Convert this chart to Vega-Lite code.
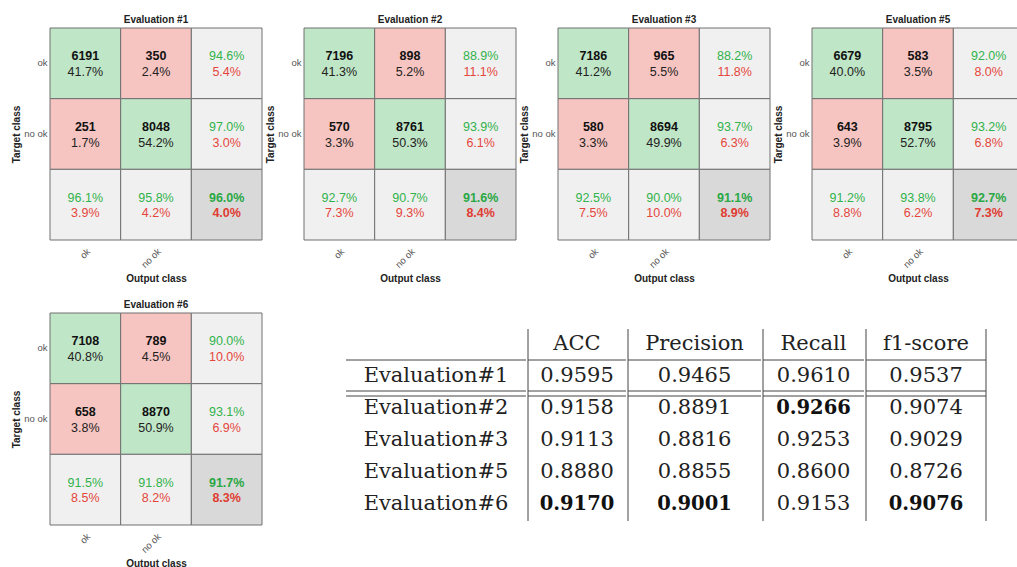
{
  "$schema": "https://vega.github.io/schema/vega-lite/v6.json",
  "padding": {"left": 11, "top": 14, "right": 0, "bottom": 0},
  "config": {"view": {"stroke": null}, "font": "Liberation Sans", "axis": {"grid": false}},
  "datasets": {
    "cm": [
      {"ev": 1, "r": "ok", "c": "ok", "k": "tp", "a": 6191, "b": 0.417},
      {"ev": 1, "r": "ok", "c": "no ok", "k": "err", "a": 350, "b": 0.024},
      {"ev": 1, "r": "ok", "c": "all", "k": "sum", "a": 0.946, "b": 0.054},
      {"ev": 1, "r": "no ok", "c": "ok", "k": "err", "a": 251, "b": 0.017},
      {"ev": 1, "r": "no ok", "c": "no ok", "k": "tp", "a": 8048, "b": 0.542},
      {"ev": 1, "r": "no ok", "c": "all", "k": "sum", "a": 0.970, "b": 0.030},
      {"ev": 1, "r": "all", "c": "ok", "k": "sum", "a": 0.961, "b": 0.039},
      {"ev": 1, "r": "all", "c": "no ok", "k": "sum", "a": 0.958, "b": 0.042},
      {"ev": 1, "r": "all", "c": "all", "k": "tot", "a": 0.960, "b": 0.040},
      {"ev": 2, "r": "ok", "c": "ok", "k": "tp", "a": 7196, "b": 0.413},
      {"ev": 2, "r": "ok", "c": "no ok", "k": "err", "a": 898, "b": 0.052},
      {"ev": 2, "r": "ok", "c": "all", "k": "sum", "a": 0.889, "b": 0.111},
      {"ev": 2, "r": "no ok", "c": "ok", "k": "err", "a": 570, "b": 0.033},
      {"ev": 2, "r": "no ok", "c": "no ok", "k": "tp", "a": 8761, "b": 0.503},
      {"ev": 2, "r": "no ok", "c": "all", "k": "sum", "a": 0.939, "b": 0.061},
      {"ev": 2, "r": "all", "c": "ok", "k": "sum", "a": 0.927, "b": 0.073},
      {"ev": 2, "r": "all", "c": "no ok", "k": "sum", "a": 0.907, "b": 0.093},
      {"ev": 2, "r": "all", "c": "all", "k": "tot", "a": 0.916, "b": 0.084},
      {"ev": 3, "r": "ok", "c": "ok", "k": "tp", "a": 7186, "b": 0.412},
      {"ev": 3, "r": "ok", "c": "no ok", "k": "err", "a": 965, "b": 0.055},
      {"ev": 3, "r": "ok", "c": "all", "k": "sum", "a": 0.882, "b": 0.118},
      {"ev": 3, "r": "no ok", "c": "ok", "k": "err", "a": 580, "b": 0.033},
      {"ev": 3, "r": "no ok", "c": "no ok", "k": "tp", "a": 8694, "b": 0.499},
      {"ev": 3, "r": "no ok", "c": "all", "k": "sum", "a": 0.937, "b": 0.063},
      {"ev": 3, "r": "all", "c": "ok", "k": "sum", "a": 0.925, "b": 0.075},
      {"ev": 3, "r": "all", "c": "no ok", "k": "sum", "a": 0.900, "b": 0.100},
      {"ev": 3, "r": "all", "c": "all", "k": "tot", "a": 0.911, "b": 0.089},
      {"ev": 5, "r": "ok", "c": "ok", "k": "tp", "a": 6679, "b": 0.400},
      {"ev": 5, "r": "ok", "c": "no ok", "k": "err", "a": 583, "b": 0.035},
      {"ev": 5, "r": "ok", "c": "all", "k": "sum", "a": 0.920, "b": 0.080},
      {"ev": 5, "r": "no ok", "c": "ok", "k": "err", "a": 643, "b": 0.039},
      {"ev": 5, "r": "no ok", "c": "no ok", "k": "tp", "a": 8795, "b": 0.527},
      {"ev": 5, "r": "no ok", "c": "all", "k": "sum", "a": 0.932, "b": 0.068},
      {"ev": 5, "r": "all", "c": "ok", "k": "sum", "a": 0.912, "b": 0.088},
      {"ev": 5, "r": "all", "c": "no ok", "k": "sum", "a": 0.938, "b": 0.062},
      {"ev": 5, "r": "all", "c": "all", "k": "tot", "a": 0.927, "b": 0.073},
      {"ev": 6, "r": "ok", "c": "ok", "k": "tp", "a": 7108, "b": 0.408},
      {"ev": 6, "r": "ok", "c": "no ok", "k": "err", "a": 789, "b": 0.045},
      {"ev": 6, "r": "ok", "c": "all", "k": "sum", "a": 0.900, "b": 0.100},
      {"ev": 6, "r": "no ok", "c": "ok", "k": "err", "a": 658, "b": 0.038},
      {"ev": 6, "r": "no ok", "c": "no ok", "k": "tp", "a": 8870, "b": 0.509},
      {"ev": 6, "r": "no ok", "c": "all", "k": "sum", "a": 0.931, "b": 0.069},
      {"ev": 6, "r": "all", "c": "ok", "k": "sum", "a": 0.915, "b": 0.085},
      {"ev": 6, "r": "all", "c": "no ok", "k": "sum", "a": 0.918, "b": 0.082},
      {"ev": 6, "r": "all", "c": "all", "k": "tot", "a": 0.917, "b": 0.083}
    ],
    "tbl": [
      {"ev": "Evaluation#1", "grp": "base", "m": "ACC", "v": 0.9595},
      {"ev": "Evaluation#1", "grp": "base", "m": "Precision", "v": 0.9465},
      {"ev": "Evaluation#1", "grp": "base", "m": "Recall", "v": 0.9610},
      {"ev": "Evaluation#1", "grp": "base", "m": "f1-score", "v": 0.9537},
      {"ev": "Evaluation#2", "grp": "cmp", "m": "ACC", "v": 0.9158},
      {"ev": "Evaluation#2", "grp": "cmp", "m": "Precision", "v": 0.8891},
      {"ev": "Evaluation#2", "grp": "cmp", "m": "Recall", "v": 0.9266},
      {"ev": "Evaluation#2", "grp": "cmp", "m": "f1-score", "v": 0.9074},
      {"ev": "Evaluation#3", "grp": "cmp", "m": "ACC", "v": 0.9113},
      {"ev": "Evaluation#3", "grp": "cmp", "m": "Precision", "v": 0.8816},
      {"ev": "Evaluation#3", "grp": "cmp", "m": "Recall", "v": 0.9253},
      {"ev": "Evaluation#3", "grp": "cmp", "m": "f1-score", "v": 0.9029},
      {"ev": "Evaluation#5", "grp": "cmp", "m": "ACC", "v": 0.8880},
      {"ev": "Evaluation#5", "grp": "cmp", "m": "Precision", "v": 0.8855},
      {"ev": "Evaluation#5", "grp": "cmp", "m": "Recall", "v": 0.8600},
      {"ev": "Evaluation#5", "grp": "cmp", "m": "f1-score", "v": 0.8726},
      {"ev": "Evaluation#6", "grp": "cmp", "m": "ACC", "v": 0.9170},
      {"ev": "Evaluation#6", "grp": "cmp", "m": "Precision", "v": 0.9001},
      {"ev": "Evaluation#6", "grp": "cmp", "m": "Recall", "v": 0.9153},
      {"ev": "Evaluation#6", "grp": "cmp", "m": "f1-score", "v": 0.9076}
    ]
  },
  "spacing": 15,
  "vconcat": [
    {
      "spacing": 2,
      "hconcat": [
        {
          "width": 212, "height": 212,
          "title": {"text": "Evaluation #1", "fontSize": 10, "fontWeight": "bold", "color": "#222", "offset": 3},
          "data": {"name": "cm"},
          "transform": [{"filter": "datum.ev == 1"}],
          "encoding": {
            "x": {"field": "c", "type": "nominal", "scale": {"type": "band", "domain": ["ok", "no ok", "all"], "paddingInner": 0, "paddingOuter": 0}, "axis": {"title": "Output class", "labelAngle": -45, "ticks": false, "domain": false, "labelPadding": 6, "labelFontSize": 9.5, "labelColor": "#555", "titleFontSize": 10, "titleFontWeight": "bold", "titleColor": "#222", "titlePadding": 4, "labelExpr": "datum.value == 'all' ? '' : datum.value"}},
            "y": {"field": "r", "type": "nominal", "scale": {"type": "band", "domain": ["ok", "no ok", "all"], "paddingInner": 0, "paddingOuter": 0}, "axis": {"title": "Target class", "ticks": false, "domain": false, "labelPadding": 3, "labelFontSize": 9.5, "labelColor": "#555", "titleFontSize": 10, "titleFontWeight": "bold", "titleColor": "#222", "titlePadding": 2, "labelExpr": "datum.value == 'all' ? '' : datum.value"}}
          },
          "layer": [
            {"mark": {"type": "rect", "stroke": "#707070", "strokeWidth": 1}, "encoding": {"fill": {"field": "k", "type": "nominal", "scale": {"domain": ["tp", "err", "sum", "tot"], "range": ["#bfe6c6", "#f7c5c1", "#f0f0f0", "#d9d9d9"]}, "legend": null}}},
            {"transform": [{"filter": "datum.k == 'tp' || datum.k == 'err'"}], "mark": {"type": "text", "fontSize": 12.5, "fontWeight": "bold", "color": "#111", "yOffset": -7}, "encoding": {"text": {"field": "a", "format": "d"}}},
            {"transform": [{"filter": "datum.k == 'tp' || datum.k == 'err'"}], "mark": {"type": "text", "fontSize": 12.5, "color": "#222", "yOffset": 8.5}, "encoding": {"text": {"field": "b", "format": ".1%"}}},
            {"transform": [{"filter": "datum.k == 'sum'"}], "mark": {"type": "text", "fontSize": 12.5, "color": "#30b34b", "yOffset": -7}, "encoding": {"text": {"field": "a", "format": ".1%"}}},
            {"transform": [{"filter": "datum.k == 'sum'"}], "mark": {"type": "text", "fontSize": 12.5, "color": "#e5463c", "yOffset": 8.5}, "encoding": {"text": {"field": "b", "format": ".1%"}}},
            {"transform": [{"filter": "datum.k == 'tot'"}], "mark": {"type": "text", "fontSize": 12.5, "fontWeight": "bold", "color": "#2aa845", "yOffset": -7}, "encoding": {"text": {"field": "a", "format": ".1%"}}},
            {"transform": [{"filter": "datum.k == 'tot'"}], "mark": {"type": "text", "fontSize": 12.5, "fontWeight": "bold", "color": "#e03c32", "yOffset": 8.5}, "encoding": {"text": {"field": "b", "format": ".1%"}}}
          ]
        },
        {
          "width": 212, "height": 212,
          "title": {"text": "Evaluation #2", "fontSize": 10, "fontWeight": "bold", "color": "#222", "offset": 3},
          "data": {"name": "cm"},
          "transform": [{"filter": "datum.ev == 2"}],
          "encoding": {
            "x": {"field": "c", "type": "nominal", "scale": {"type": "band", "domain": ["ok", "no ok", "all"], "paddingInner": 0, "paddingOuter": 0}, "axis": {"title": "Output class", "labelAngle": -45, "ticks": false, "domain": false, "labelPadding": 6, "labelFontSize": 9.5, "labelColor": "#555", "titleFontSize": 10, "titleFontWeight": "bold", "titleColor": "#222", "titlePadding": 4, "labelExpr": "datum.value == 'all' ? '' : datum.value"}},
            "y": {"field": "r", "type": "nominal", "scale": {"type": "band", "domain": ["ok", "no ok", "all"], "paddingInner": 0, "paddingOuter": 0}, "axis": {"title": "Target class", "ticks": false, "domain": false, "labelPadding": 3, "labelFontSize": 9.5, "labelColor": "#555", "titleFontSize": 10, "titleFontWeight": "bold", "titleColor": "#222", "titlePadding": 2, "labelExpr": "datum.value == 'all' ? '' : datum.value"}}
          },
          "layer": [
            {"mark": {"type": "rect", "stroke": "#707070", "strokeWidth": 1}, "encoding": {"fill": {"field": "k", "type": "nominal", "scale": {"domain": ["tp", "err", "sum", "tot"], "range": ["#bfe6c6", "#f7c5c1", "#f0f0f0", "#d9d9d9"]}, "legend": null}}},
            {"transform": [{"filter": "datum.k == 'tp' || datum.k == 'err'"}], "mark": {"type": "text", "fontSize": 12.5, "fontWeight": "bold", "color": "#111", "yOffset": -7}, "encoding": {"text": {"field": "a", "format": "d"}}},
            {"transform": [{"filter": "datum.k == 'tp' || datum.k == 'err'"}], "mark": {"type": "text", "fontSize": 12.5, "color": "#222", "yOffset": 8.5}, "encoding": {"text": {"field": "b", "format": ".1%"}}},
            {"transform": [{"filter": "datum.k == 'sum'"}], "mark": {"type": "text", "fontSize": 12.5, "color": "#30b34b", "yOffset": -7}, "encoding": {"text": {"field": "a", "format": ".1%"}}},
            {"transform": [{"filter": "datum.k == 'sum'"}], "mark": {"type": "text", "fontSize": 12.5, "color": "#e5463c", "yOffset": 8.5}, "encoding": {"text": {"field": "b", "format": ".1%"}}},
            {"transform": [{"filter": "datum.k == 'tot'"}], "mark": {"type": "text", "fontSize": 12.5, "fontWeight": "bold", "color": "#2aa845", "yOffset": -7}, "encoding": {"text": {"field": "a", "format": ".1%"}}},
            {"transform": [{"filter": "datum.k == 'tot'"}], "mark": {"type": "text", "fontSize": 12.5, "fontWeight": "bold", "color": "#e03c32", "yOffset": 8.5}, "encoding": {"text": {"field": "b", "format": ".1%"}}}
          ]
        },
        {
          "width": 212, "height": 212,
          "title": {"text": "Evaluation #3", "fontSize": 10, "fontWeight": "bold", "color": "#222", "offset": 3},
          "data": {"name": "cm"},
          "transform": [{"filter": "datum.ev == 3"}],
          "encoding": {
            "x": {"field": "c", "type": "nominal", "scale": {"type": "band", "domain": ["ok", "no ok", "all"], "paddingInner": 0, "paddingOuter": 0}, "axis": {"title": "Output class", "labelAngle": -45, "ticks": false, "domain": false, "labelPadding": 6, "labelFontSize": 9.5, "labelColor": "#555", "titleFontSize": 10, "titleFontWeight": "bold", "titleColor": "#222", "titlePadding": 4, "labelExpr": "datum.value == 'all' ? '' : datum.value"}},
            "y": {"field": "r", "type": "nominal", "scale": {"type": "band", "domain": ["ok", "no ok", "all"], "paddingInner": 0, "paddingOuter": 0}, "axis": {"title": "Target class", "ticks": false, "domain": false, "labelPadding": 3, "labelFontSize": 9.5, "labelColor": "#555", "titleFontSize": 10, "titleFontWeight": "bold", "titleColor": "#222", "titlePadding": 2, "labelExpr": "datum.value == 'all' ? '' : datum.value"}}
          },
          "layer": [
            {"mark": {"type": "rect", "stroke": "#707070", "strokeWidth": 1}, "encoding": {"fill": {"field": "k", "type": "nominal", "scale": {"domain": ["tp", "err", "sum", "tot"], "range": ["#bfe6c6", "#f7c5c1", "#f0f0f0", "#d9d9d9"]}, "legend": null}}},
            {"transform": [{"filter": "datum.k == 'tp' || datum.k == 'err'"}], "mark": {"type": "text", "fontSize": 12.5, "fontWeight": "bold", "color": "#111", "yOffset": -7}, "encoding": {"text": {"field": "a", "format": "d"}}},
            {"transform": [{"filter": "datum.k == 'tp' || datum.k == 'err'"}], "mark": {"type": "text", "fontSize": 12.5, "color": "#222", "yOffset": 8.5}, "encoding": {"text": {"field": "b", "format": ".1%"}}},
            {"transform": [{"filter": "datum.k == 'sum'"}], "mark": {"type": "text", "fontSize": 12.5, "color": "#30b34b", "yOffset": -7}, "encoding": {"text": {"field": "a", "format": ".1%"}}},
            {"transform": [{"filter": "datum.k == 'sum'"}], "mark": {"type": "text", "fontSize": 12.5, "color": "#e5463c", "yOffset": 8.5}, "encoding": {"text": {"field": "b", "format": ".1%"}}},
            {"transform": [{"filter": "datum.k == 'tot'"}], "mark": {"type": "text", "fontSize": 12.5, "fontWeight": "bold", "color": "#2aa845", "yOffset": -7}, "encoding": {"text": {"field": "a", "format": ".1%"}}},
            {"transform": [{"filter": "datum.k == 'tot'"}], "mark": {"type": "text", "fontSize": 12.5, "fontWeight": "bold", "color": "#e03c32", "yOffset": 8.5}, "encoding": {"text": {"field": "b", "format": ".1%"}}}
          ]
        },
        {
          "width": 212, "height": 212,
          "title": {"text": "Evaluation #5", "fontSize": 10, "fontWeight": "bold", "color": "#222", "offset": 3},
          "data": {"name": "cm"},
          "transform": [{"filter": "datum.ev == 5"}],
          "encoding": {
            "x": {"field": "c", "type": "nominal", "scale": {"type": "band", "domain": ["ok", "no ok", "all"], "paddingInner": 0, "paddingOuter": 0}, "axis": {"title": "Output class", "labelAngle": -45, "ticks": false, "domain": false, "labelPadding": 6, "labelFontSize": 9.5, "labelColor": "#555", "titleFontSize": 10, "titleFontWeight": "bold", "titleColor": "#222", "titlePadding": 4, "labelExpr": "datum.value == 'all' ? '' : datum.value"}},
            "y": {"field": "r", "type": "nominal", "scale": {"type": "band", "domain": ["ok", "no ok", "all"], "paddingInner": 0, "paddingOuter": 0}, "axis": {"title": "Target class", "ticks": false, "domain": false, "labelPadding": 3, "labelFontSize": 9.5, "labelColor": "#555", "titleFontSize": 10, "titleFontWeight": "bold", "titleColor": "#222", "titlePadding": 2, "labelExpr": "datum.value == 'all' ? '' : datum.value"}}
          },
          "layer": [
            {"mark": {"type": "rect", "stroke": "#707070", "strokeWidth": 1}, "encoding": {"fill": {"field": "k", "type": "nominal", "scale": {"domain": ["tp", "err", "sum", "tot"], "range": ["#bfe6c6", "#f7c5c1", "#f0f0f0", "#d9d9d9"]}, "legend": null}}},
            {"transform": [{"filter": "datum.k == 'tp' || datum.k == 'err'"}], "mark": {"type": "text", "fontSize": 12.5, "fontWeight": "bold", "color": "#111", "yOffset": -7}, "encoding": {"text": {"field": "a", "format": "d"}}},
            {"transform": [{"filter": "datum.k == 'tp' || datum.k == 'err'"}], "mark": {"type": "text", "fontSize": 12.5, "color": "#222", "yOffset": 8.5}, "encoding": {"text": {"field": "b", "format": ".1%"}}},
            {"transform": [{"filter": "datum.k == 'sum'"}], "mark": {"type": "text", "fontSize": 12.5, "color": "#30b34b", "yOffset": -7}, "encoding": {"text": {"field": "a", "format": ".1%"}}},
            {"transform": [{"filter": "datum.k == 'sum'"}], "mark": {"type": "text", "fontSize": 12.5, "color": "#e5463c", "yOffset": 8.5}, "encoding": {"text": {"field": "b", "format": ".1%"}}},
            {"transform": [{"filter": "datum.k == 'tot'"}], "mark": {"type": "text", "fontSize": 12.5, "fontWeight": "bold", "color": "#2aa845", "yOffset": -7}, "encoding": {"text": {"field": "a", "format": ".1%"}}},
            {"transform": [{"filter": "datum.k == 'tot'"}], "mark": {"type": "text", "fontSize": 12.5, "fontWeight": "bold", "color": "#e03c32", "yOffset": 8.5}, "encoding": {"text": {"field": "b", "format": ".1%"}}}
          ]
        }
      ]
    },
    {
      "spacing": 82,
      "hconcat": [
        {
          "width": 212, "height": 212,
          "title": {"text": "Evaluation #6", "fontSize": 10, "fontWeight": "bold", "color": "#222", "offset": 3},
          "data": {"name": "cm"},
          "transform": [{"filter": "datum.ev == 6"}],
          "encoding": {
            "x": {"field": "c", "type": "nominal", "scale": {"type": "band", "domain": ["ok", "no ok", "all"], "paddingInner": 0, "paddingOuter": 0}, "axis": {"title": "Output class", "labelAngle": -45, "ticks": false, "domain": false, "labelPadding": 6, "labelFontSize": 9.5, "labelColor": "#555", "titleFontSize": 10, "titleFontWeight": "bold", "titleColor": "#222", "titlePadding": 4, "labelExpr": "datum.value == 'all' ? '' : datum.value"}},
            "y": {"field": "r", "type": "nominal", "scale": {"type": "band", "domain": ["ok", "no ok", "all"], "paddingInner": 0, "paddingOuter": 0}, "axis": {"title": "Target class", "ticks": false, "domain": false, "labelPadding": 3, "labelFontSize": 9.5, "labelColor": "#555", "titleFontSize": 10, "titleFontWeight": "bold", "titleColor": "#222", "titlePadding": 2, "labelExpr": "datum.value == 'all' ? '' : datum.value"}}
          },
          "layer": [
            {"mark": {"type": "rect", "stroke": "#707070", "strokeWidth": 1}, "encoding": {"fill": {"field": "k", "type": "nominal", "scale": {"domain": ["tp", "err", "sum", "tot"], "range": ["#bfe6c6", "#f7c5c1", "#f0f0f0", "#d9d9d9"]}, "legend": null}}},
            {"transform": [{"filter": "datum.k == 'tp' || datum.k == 'err'"}], "mark": {"type": "text", "fontSize": 12.5, "fontWeight": "bold", "color": "#111", "yOffset": -7}, "encoding": {"text": {"field": "a", "format": "d"}}},
            {"transform": [{"filter": "datum.k == 'tp' || datum.k == 'err'"}], "mark": {"type": "text", "fontSize": 12.5, "color": "#222", "yOffset": 8.5}, "encoding": {"text": {"field": "b", "format": ".1%"}}},
            {"transform": [{"filter": "datum.k == 'sum'"}], "mark": {"type": "text", "fontSize": 12.5, "color": "#30b34b", "yOffset": -7}, "encoding": {"text": {"field": "a", "format": ".1%"}}},
            {"transform": [{"filter": "datum.k == 'sum'"}], "mark": {"type": "text", "fontSize": 12.5, "color": "#e5463c", "yOffset": 8.5}, "encoding": {"text": {"field": "b", "format": ".1%"}}},
            {"transform": [{"filter": "datum.k == 'tot'"}], "mark": {"type": "text", "fontSize": 12.5, "fontWeight": "bold", "color": "#2aa845", "yOffset": -7}, "encoding": {"text": {"field": "a", "format": ".1%"}}},
            {"transform": [{"filter": "datum.k == 'tot'"}], "mark": {"type": "text", "fontSize": 12.5, "fontWeight": "bold", "color": "#e03c32", "yOffset": 8.5}, "encoding": {"text": {"field": "b", "format": ".1%"}}}
          ]
        },
        {
          "spacing": 0,
          "vconcat": [
            {"width": 1, "height": 15, "data": {"values": []}, "mark": "point"},
            {
              "spacing": 0,
              "hconcat": [
                {
                  "width": 180, "height": 192,
                  "data": {"name": "tbl"},
                  "transform": [{"filter": "datum.m == 'ACC'"}],
                  "layer": [
                    {"mark": {"type": "text", "font": "DejaVu Serif", "fontSize": 21, "color": "#222", "yOffset": -1}, "encoding": {"y": {"field": "ev", "type": "nominal", "axis": null, "scale": {"type": "band", "domain": ["hdr", "Evaluation#1", "Evaluation#2", "Evaluation#3", "Evaluation#5", "Evaluation#6"], "paddingInner": 0, "paddingOuter": 0}}, "text": {"field": "ev"}}},
                    {"transform": [{"filter": "datum.ev == 'Evaluation#1'"}], "mark": {"type": "rule", "color": "#444", "yOffset": -1}, "encoding": {"y": {"field": "ev", "type": "nominal", "bandPosition": 0, "axis": null, "scale": {"type": "band", "domain": ["hdr", "Evaluation#1", "Evaluation#2", "Evaluation#3", "Evaluation#5", "Evaluation#6"], "paddingInner": 0, "paddingOuter": 0}}}},
                    {"transform": [{"filter": "datum.ev == 'Evaluation#2'"}], "mark": {"type": "rule", "color": "#444", "yOffset": -2}, "encoding": {"y": {"field": "ev", "type": "nominal", "bandPosition": 0, "axis": null, "scale": {"type": "band", "domain": ["hdr", "Evaluation#1", "Evaluation#2", "Evaluation#3", "Evaluation#5", "Evaluation#6"], "paddingInner": 0, "paddingOuter": 0}}}},
                    {"transform": [{"filter": "datum.ev == 'Evaluation#2'"}], "mark": {"type": "rule", "color": "#444", "yOffset": 3}, "encoding": {"y": {"field": "ev", "type": "nominal", "bandPosition": 0, "axis": null, "scale": {"type": "band", "domain": ["hdr", "Evaluation#1", "Evaluation#2", "Evaluation#3", "Evaluation#5", "Evaluation#6"], "paddingInner": 0, "paddingOuter": 0}}}}
                  ]
                },
                {
                  "width": 98, "height": 192,
                  "data": {"name": "tbl"},
                  "transform": [{"filter": "datum.m == 'ACC'"}, {"joinaggregate": [{"op": "max", "field": "v", "as": "mx"}], "groupby": ["grp"]}],
                  "layer": [
                    {"transform": [{"filter": "!(datum.grp == 'cmp' && datum.v == datum.mx)"}], "mark": {"type": "text", "font": "DejaVu Serif", "fontSize": 21, "color": "#222", "yOffset": -1}, "encoding": {"y": {"field": "ev", "type": "nominal", "axis": null, "scale": {"type": "band", "domain": ["hdr", "Evaluation#1", "Evaluation#2", "Evaluation#3", "Evaluation#5", "Evaluation#6"], "paddingInner": 0, "paddingOuter": 0}}, "text": {"field": "v", "format": ".4f"}}},
                    {"transform": [{"filter": "datum.grp == 'cmp' && datum.v == datum.mx"}], "mark": {"type": "text", "font": "DejaVu Serif", "fontSize": 19.5, "fontWeight": "bold", "color": "#111", "yOffset": -1}, "encoding": {"y": {"field": "ev", "type": "nominal", "axis": null, "scale": {"type": "band", "domain": ["hdr", "Evaluation#1", "Evaluation#2", "Evaluation#3", "Evaluation#5", "Evaluation#6"], "paddingInner": 0, "paddingOuter": 0}}, "text": {"field": "v", "format": ".4f"}}},
                    {"transform": [{"filter": "datum.ev == 'Evaluation#1'"}], "mark": {"type": "text", "font": "DejaVu Serif", "fontSize": 21, "color": "#222", "yOffset": -1}, "encoding": {"y": {"datum": "hdr", "type": "nominal", "axis": null, "scale": {"type": "band", "domain": ["hdr", "Evaluation#1", "Evaluation#2", "Evaluation#3", "Evaluation#5", "Evaluation#6"], "paddingInner": 0, "paddingOuter": 0}}, "text": {"field": "m"}}},
                    {"transform": [{"filter": "datum.ev == 'Evaluation#1'"}], "mark": {"type": "rule", "color": "#444", "yOffset": -1}, "encoding": {"y": {"field": "ev", "type": "nominal", "bandPosition": 0, "axis": null, "scale": {"type": "band", "domain": ["hdr", "Evaluation#1", "Evaluation#2", "Evaluation#3", "Evaluation#5", "Evaluation#6"], "paddingInner": 0, "paddingOuter": 0}}}},
                    {"transform": [{"filter": "datum.ev == 'Evaluation#2'"}], "mark": {"type": "rule", "color": "#444", "yOffset": -2}, "encoding": {"y": {"field": "ev", "type": "nominal", "bandPosition": 0, "axis": null, "scale": {"type": "band", "domain": ["hdr", "Evaluation#1", "Evaluation#2", "Evaluation#3", "Evaluation#5", "Evaluation#6"], "paddingInner": 0, "paddingOuter": 0}}}},
                    {"transform": [{"filter": "datum.ev == 'Evaluation#2'"}], "mark": {"type": "rule", "color": "#444", "yOffset": 3}, "encoding": {"y": {"field": "ev", "type": "nominal", "bandPosition": 0, "axis": null, "scale": {"type": "band", "domain": ["hdr", "Evaluation#1", "Evaluation#2", "Evaluation#3", "Evaluation#5", "Evaluation#6"], "paddingInner": 0, "paddingOuter": 0}}}},
                    {"transform": [{"filter": "datum.ev == 'Evaluation#1'"}], "mark": {"type": "rule", "color": "#444"}, "encoding": {"x": {"field": "m", "type": "nominal", "bandPosition": 0, "axis": null, "scale": {"type": "band", "paddingInner": 0, "paddingOuter": 0}}}}
                  ]
                },
                {
                  "width": 133, "height": 192,
                  "data": {"name": "tbl"},
                  "transform": [{"filter": "datum.m == 'Precision'"}, {"joinaggregate": [{"op": "max", "field": "v", "as": "mx"}], "groupby": ["grp"]}],
                  "layer": [
                    {"transform": [{"filter": "!(datum.grp == 'cmp' && datum.v == datum.mx)"}], "mark": {"type": "text", "font": "DejaVu Serif", "fontSize": 21, "color": "#222", "yOffset": -1}, "encoding": {"y": {"field": "ev", "type": "nominal", "axis": null, "scale": {"type": "band", "domain": ["hdr", "Evaluation#1", "Evaluation#2", "Evaluation#3", "Evaluation#5", "Evaluation#6"], "paddingInner": 0, "paddingOuter": 0}}, "text": {"field": "v", "format": ".4f"}}},
                    {"transform": [{"filter": "datum.grp == 'cmp' && datum.v == datum.mx"}], "mark": {"type": "text", "font": "DejaVu Serif", "fontSize": 19.5, "fontWeight": "bold", "color": "#111", "yOffset": -1}, "encoding": {"y": {"field": "ev", "type": "nominal", "axis": null, "scale": {"type": "band", "domain": ["hdr", "Evaluation#1", "Evaluation#2", "Evaluation#3", "Evaluation#5", "Evaluation#6"], "paddingInner": 0, "paddingOuter": 0}}, "text": {"field": "v", "format": ".4f"}}},
                    {"transform": [{"filter": "datum.ev == 'Evaluation#1'"}], "mark": {"type": "text", "font": "DejaVu Serif", "fontSize": 21, "color": "#222", "yOffset": -1}, "encoding": {"y": {"datum": "hdr", "type": "nominal", "axis": null, "scale": {"type": "band", "domain": ["hdr", "Evaluation#1", "Evaluation#2", "Evaluation#3", "Evaluation#5", "Evaluation#6"], "paddingInner": 0, "paddingOuter": 0}}, "text": {"field": "m"}}},
                    {"transform": [{"filter": "datum.ev == 'Evaluation#1'"}], "mark": {"type": "rule", "color": "#444", "yOffset": -1}, "encoding": {"y": {"field": "ev", "type": "nominal", "bandPosition": 0, "axis": null, "scale": {"type": "band", "domain": ["hdr", "Evaluation#1", "Evaluation#2", "Evaluation#3", "Evaluation#5", "Evaluation#6"], "paddingInner": 0, "paddingOuter": 0}}}},
                    {"transform": [{"filter": "datum.ev == 'Evaluation#2'"}], "mark": {"type": "rule", "color": "#444", "yOffset": -2}, "encoding": {"y": {"field": "ev", "type": "nominal", "bandPosition": 0, "axis": null, "scale": {"type": "band", "domain": ["hdr", "Evaluation#1", "Evaluation#2", "Evaluation#3", "Evaluation#5", "Evaluation#6"], "paddingInner": 0, "paddingOuter": 0}}}},
                    {"transform": [{"filter": "datum.ev == 'Evaluation#2'"}], "mark": {"type": "rule", "color": "#444", "yOffset": 3}, "encoding": {"y": {"field": "ev", "type": "nominal", "bandPosition": 0, "axis": null, "scale": {"type": "band", "domain": ["hdr", "Evaluation#1", "Evaluation#2", "Evaluation#3", "Evaluation#5", "Evaluation#6"], "paddingInner": 0, "paddingOuter": 0}}}},
                    {"transform": [{"filter": "datum.ev == 'Evaluation#1'"}], "mark": {"type": "rule", "color": "#444"}, "encoding": {"x": {"field": "m", "type": "nominal", "bandPosition": 0, "axis": null, "scale": {"type": "band", "paddingInner": 0, "paddingOuter": 0}}}}
                  ]
                },
                {
                  "width": 101, "height": 192,
                  "data": {"name": "tbl"},
                  "transform": [{"filter": "datum.m == 'Recall'"}, {"joinaggregate": [{"op": "max", "field": "v", "as": "mx"}], "groupby": ["grp"]}],
                  "layer": [
                    {"transform": [{"filter": "!(datum.grp == 'cmp' && datum.v == datum.mx)"}], "mark": {"type": "text", "font": "DejaVu Serif", "fontSize": 21, "color": "#222", "yOffset": -1}, "encoding": {"y": {"field": "ev", "type": "nominal", "axis": null, "scale": {"type": "band", "domain": ["hdr", "Evaluation#1", "Evaluation#2", "Evaluation#3", "Evaluation#5", "Evaluation#6"], "paddingInner": 0, "paddingOuter": 0}}, "text": {"field": "v", "format": ".4f"}}},
                    {"transform": [{"filter": "datum.grp == 'cmp' && datum.v == datum.mx"}], "mark": {"type": "text", "font": "DejaVu Serif", "fontSize": 19.5, "fontWeight": "bold", "color": "#111", "yOffset": -1}, "encoding": {"y": {"field": "ev", "type": "nominal", "axis": null, "scale": {"type": "band", "domain": ["hdr", "Evaluation#1", "Evaluation#2", "Evaluation#3", "Evaluation#5", "Evaluation#6"], "paddingInner": 0, "paddingOuter": 0}}, "text": {"field": "v", "format": ".4f"}}},
                    {"transform": [{"filter": "datum.ev == 'Evaluation#1'"}], "mark": {"type": "text", "font": "DejaVu Serif", "fontSize": 21, "color": "#222", "yOffset": -1}, "encoding": {"y": {"datum": "hdr", "type": "nominal", "axis": null, "scale": {"type": "band", "domain": ["hdr", "Evaluation#1", "Evaluation#2", "Evaluation#3", "Evaluation#5", "Evaluation#6"], "paddingInner": 0, "paddingOuter": 0}}, "text": {"field": "m"}}},
                    {"transform": [{"filter": "datum.ev == 'Evaluation#1'"}], "mark": {"type": "rule", "color": "#444", "yOffset": -1}, "encoding": {"y": {"field": "ev", "type": "nominal", "bandPosition": 0, "axis": null, "scale": {"type": "band", "domain": ["hdr", "Evaluation#1", "Evaluation#2", "Evaluation#3", "Evaluation#5", "Evaluation#6"], "paddingInner": 0, "paddingOuter": 0}}}},
                    {"transform": [{"filter": "datum.ev == 'Evaluation#2'"}], "mark": {"type": "rule", "color": "#444", "yOffset": -2}, "encoding": {"y": {"field": "ev", "type": "nominal", "bandPosition": 0, "axis": null, "scale": {"type": "band", "domain": ["hdr", "Evaluation#1", "Evaluation#2", "Evaluation#3", "Evaluation#5", "Evaluation#6"], "paddingInner": 0, "paddingOuter": 0}}}},
                    {"transform": [{"filter": "datum.ev == 'Evaluation#2'"}], "mark": {"type": "rule", "color": "#444", "yOffset": 3}, "encoding": {"y": {"field": "ev", "type": "nominal", "bandPosition": 0, "axis": null, "scale": {"type": "band", "domain": ["hdr", "Evaluation#1", "Evaluation#2", "Evaluation#3", "Evaluation#5", "Evaluation#6"], "paddingInner": 0, "paddingOuter": 0}}}},
                    {"transform": [{"filter": "datum.ev == 'Evaluation#1'"}], "mark": {"type": "rule", "color": "#444"}, "encoding": {"x": {"field": "m", "type": "nominal", "bandPosition": 0, "axis": null, "scale": {"type": "band", "paddingInner": 0, "paddingOuter": 0}}}}
                  ]
                },
                {
                  "width": 120, "height": 192,
                  "data": {"name": "tbl"},
                  "transform": [{"filter": "datum.m == 'f1-score'"}, {"joinaggregate": [{"op": "max", "field": "v", "as": "mx"}], "groupby": ["grp"]}],
                  "layer": [
                    {"transform": [{"filter": "!(datum.grp == 'cmp' && datum.v == datum.mx)"}], "mark": {"type": "text", "font": "DejaVu Serif", "fontSize": 21, "color": "#222", "yOffset": -1}, "encoding": {"y": {"field": "ev", "type": "nominal", "axis": null, "scale": {"type": "band", "domain": ["hdr", "Evaluation#1", "Evaluation#2", "Evaluation#3", "Evaluation#5", "Evaluation#6"], "paddingInner": 0, "paddingOuter": 0}}, "text": {"field": "v", "format": ".4f"}}},
                    {"transform": [{"filter": "datum.grp == 'cmp' && datum.v == datum.mx"}], "mark": {"type": "text", "font": "DejaVu Serif", "fontSize": 19.5, "fontWeight": "bold", "color": "#111", "yOffset": -1}, "encoding": {"y": {"field": "ev", "type": "nominal", "axis": null, "scale": {"type": "band", "domain": ["hdr", "Evaluation#1", "Evaluation#2", "Evaluation#3", "Evaluation#5", "Evaluation#6"], "paddingInner": 0, "paddingOuter": 0}}, "text": {"field": "v", "format": ".4f"}}},
                    {"transform": [{"filter": "datum.ev == 'Evaluation#1'"}], "mark": {"type": "text", "font": "DejaVu Serif", "fontSize": 21, "color": "#222", "yOffset": -1}, "encoding": {"y": {"datum": "hdr", "type": "nominal", "axis": null, "scale": {"type": "band", "domain": ["hdr", "Evaluation#1", "Evaluation#2", "Evaluation#3", "Evaluation#5", "Evaluation#6"], "paddingInner": 0, "paddingOuter": 0}}, "text": {"field": "m"}}},
                    {"transform": [{"filter": "datum.ev == 'Evaluation#1'"}], "mark": {"type": "rule", "color": "#444", "yOffset": -1}, "encoding": {"y": {"field": "ev", "type": "nominal", "bandPosition": 0, "axis": null, "scale": {"type": "band", "domain": ["hdr", "Evaluation#1", "Evaluation#2", "Evaluation#3", "Evaluation#5", "Evaluation#6"], "paddingInner": 0, "paddingOuter": 0}}}},
                    {"transform": [{"filter": "datum.ev == 'Evaluation#2'"}], "mark": {"type": "rule", "color": "#444", "yOffset": -2}, "encoding": {"y": {"field": "ev", "type": "nominal", "bandPosition": 0, "axis": null, "scale": {"type": "band", "domain": ["hdr", "Evaluation#1", "Evaluation#2", "Evaluation#3", "Evaluation#5", "Evaluation#6"], "paddingInner": 0, "paddingOuter": 0}}}},
                    {"transform": [{"filter": "datum.ev == 'Evaluation#2'"}], "mark": {"type": "rule", "color": "#444", "yOffset": 3}, "encoding": {"y": {"field": "ev", "type": "nominal", "bandPosition": 0, "axis": null, "scale": {"type": "band", "domain": ["hdr", "Evaluation#1", "Evaluation#2", "Evaluation#3", "Evaluation#5", "Evaluation#6"], "paddingInner": 0, "paddingOuter": 0}}}},
                    {"transform": [{"filter": "datum.ev == 'Evaluation#1'"}], "mark": {"type": "rule", "color": "#444"}, "encoding": {"x": {"field": "m", "type": "nominal", "bandPosition": 0, "axis": null, "scale": {"type": "band", "paddingInner": 0, "paddingOuter": 0}}}},
                    {"transform": [{"filter": "datum.ev == 'Evaluation#1'"}], "mark": {"type": "rule", "color": "#444"}, "encoding": {"x": {"field": "m", "type": "nominal", "bandPosition": 1, "axis": null, "scale": {"type": "band", "paddingInner": 0, "paddingOuter": 0}}}}
                  ]
                }
              ]
            }
          ]
        }
      ]
    }
  ]
}
